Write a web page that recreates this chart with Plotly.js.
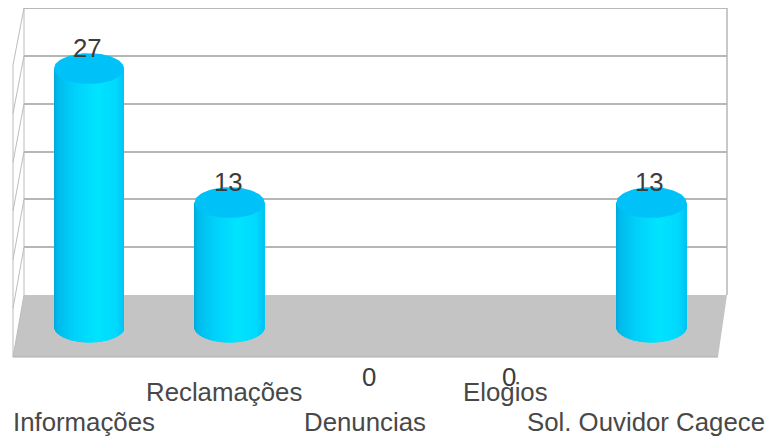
<!DOCTYPE html>
<html>
<head>
<meta charset="utf-8">
<script src="https://cdn.plot.ly/plotly-3.0.1.min.js"></script>
<style>html,body{margin:0;padding:0;background:#fff}</style>
</head>
<body>
<div id="chart" style="width:772px;height:439px"></div>
<script>
// Atendimentos por tipo de manifestacao
const categories = ["Informações", "Reclamações", "Denuncias", "Elogios", "Sol. Ouvidor Cagece"];
const values = [27, 13, 0, 0, 13];
const wallMax = 30;
const wallStep = 5;

// Page geometry, in pixels
const W = 772, H = 439;
const wall = {left: 24, right: 727, top: 8, bottom: 295};
const floorFront = {left: 13, right: 718, y: 357};
const front = {x0: 89, dx: 140.6, y0: 327, unit: 9.57, rx: 35, ry: 15.5};

const rxU = front.rx / front.dx;
const ryU = front.ry / front.unit;
const idx = categories.map((_, i) => i);

// Horizontal shading of the cylinder surface: [position, r, g, b]
const shade = [[0, 0, 168, 218], [0.05, 0, 186, 234], [0.28, 0, 208, 250], [0.62, 0, 228, 255], [0.9, 0, 216, 253], [1, 0, 194, 242]];
function shadeAt(p) {
  for (let k = 1; k < shade.length; k++) {
    if (p <= shade[k][0]) {
      const a = shade[k - 1], b = shade[k], f = (p - a[0]) / (b[0] - a[0]);
      return `rgb(${[1, 2, 3].map(c => Math.round(a[c] + (b[c] - a[c]) * f)).join(",")})`;
    }
  }
  return "rgb(0,194,242)";
}

const traces = [];
// Empty trace that keeps the back wall subplot alive
traces.push({type: "scatter", x: [], y: [], xaxis: "x", yaxis: "y", hoverinfo: "skip", showlegend: false});

// Cylinder bodies: one-pixel strips, each ending on the lower rim
const strips = 2 * front.rx;
for (let s = 0; s < strips; s++) {
  const left = -1 + 2 * s / strips;
  const mid = -1 + 2 * (s + 0.5) / strips;
  const rim = -ryU * Math.sqrt(1 - mid * mid);
  traces.push({
    type: "bar", xaxis: "x2", yaxis: "y2", showlegend: false, hoverinfo: "skip",
    x: idx,
    y: values.map(v => v > 0 ? v - rim : null),
    base: values.map(v => v > 0 ? rim : null),
    offset: left * rxU,
    width: (s === strips - 1 ? 1 : 1.5) / front.dx,
    marker: {color: shadeAt((s + 0.5) / strips), line: {width: 0}}
  });
}

// Top faces of the cylinders
values.forEach((v, i) => {
  if (v <= 0) return;
  const ex = [], ey = [];
  for (let a = 0; a <= 72; a++) {
    const t = a / 72 * 2 * Math.PI;
    ex.push(i + rxU * Math.cos(t));
    ey.push(v + ryU * Math.sin(t));
  }
  traces.push({
    type: "scatter", mode: "lines", xaxis: "x2", yaxis: "y2", x: ex, y: ey,
    fill: "toself", fillcolor: "#00c2f8", line: {width: 0, color: "#00c2f8"},
    hoverinfo: "skip", showlegend: false
  });
});

const px = x => x / W;
const py = y => 1 - y / H;
const segment = (x0, y0, x1, y1, color, width) => ({
  type: "line", xref: "paper", yref: "paper", layer: "below",
  x0: px(x0), y0: py(y0), x1: px(x1), y1: py(y1), line: {color, width}
});

const shapes = [];
// Floor
shapes.push({
  type: "path", xref: "paper", yref: "paper", layer: "below",
  path: `M${px(wall.left)},${py(wall.bottom)} L${px(wall.right)},${py(wall.bottom)} L${px(floorFront.right)},${py(floorFront.y)} L${px(floorFront.left)},${py(floorFront.y)} Z`,
  fillcolor: "#c4c4c4", line: {width: 0}
});
shapes.push(segment(floorFront.left, floorFront.y, floorFront.right, floorFront.y, "#adadad", 1));
// Left side wall with its receding grid lines
const levels = wallMax / wallStep;
for (let k = 0; k <= levels; k++) {
  const y = wall.top + (wall.bottom - wall.top) * k / levels;
  shapes.push(segment(wall.left, y, floorFront.left, y + 57 + 5 * k / levels, "#bcbcbc", 1));
}
shapes.push(segment(floorFront.left, wall.top + 57, floorFront.left, floorFront.y, "#bcbcbc", 1));
// Back wall outline
shapes.push(segment(wall.left, wall.top, wall.left, wall.bottom, "#bcbcbc", 1));
shapes.push(segment(wall.right, wall.top, wall.right, wall.bottom, "#a4a4a4", 1.2));
shapes.push(segment(wall.left, wall.top + 0.5, wall.right, wall.top + 0.5, "#b8b8b8", 1));

const annotations = [];
const valueFont = {family: "Liberation Sans", size: 25.8, color: "#3c3c3c"};
const labelFont = {family: "Liberation Sans", size: 25.8, color: "#484848"};
// Value labels; a zero value sits below the floor
values.forEach((v, i) => annotations.push({
  xref: "x2", yref: "y2", x: i, y: v, xshift: -1.5, yshift: v > 0 ? 21 : -50,
  text: String(v), showarrow: false, font: valueFont, xanchor: "center", yanchor: "middle"
}));
// Category labels on two staggered rows
const rowShift = [-95, -65];
categories.forEach((c, i) => annotations.push({
  xref: "x2", yref: "y2", x: i, y: 0, xshift: -5.5, yshift: rowShift[i % 2],
  text: c, showarrow: false, font: labelFont, xanchor: "center", yanchor: "middle"
}));

const layout = {
  width: W, height: H,
  margin: {l: 0, r: 0, t: 0, b: 0},
  paper_bgcolor: "#fff", plot_bgcolor: "rgba(0,0,0,0)",
  showlegend: false, barmode: "overlay", bargap: 0.1,
  // Back wall
  xaxis: {domain: [wall.left / W, wall.right / W], range: [0, 1], showgrid: false, zeroline: false,
          showticklabels: false, ticks: "", showline: false, anchor: "y"},
  yaxis: {domain: [1 - wall.bottom / H, 1 - wall.top / H], range: [0, wallMax], dtick: wallStep, tick0: 0,
          showgrid: true, gridcolor: "#b6b6b6", gridwidth: 1.5, zeroline: false, showticklabels: false, ticks: "",
          showline: false, anchor: "x"},
  // Front plane carrying the cylinders
  xaxis2: {domain: [0, 1], range: [-front.x0 / front.dx, (W - front.x0) / front.dx], visible: false, anchor: "y2"},
  yaxis2: {domain: [0, 1], range: [(front.y0 - H) / front.unit, front.y0 / front.unit], visible: false, anchor: "x2"},
  shapes, annotations
};

Plotly.newPlot("chart", traces, layout, {displayModeBar: false, responsive: false});
</script>
</body>
</html>
